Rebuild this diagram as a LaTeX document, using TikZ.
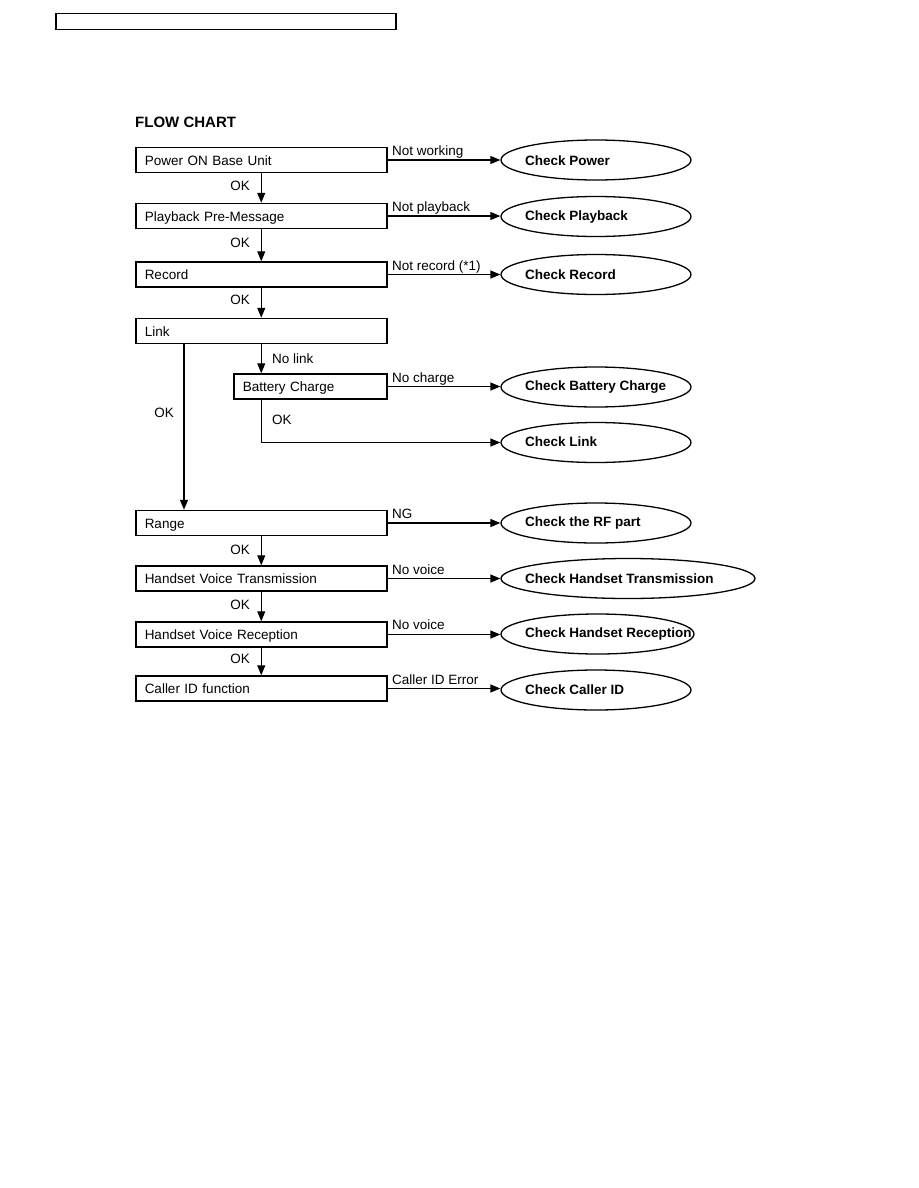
\documentclass[tikz,border=0pt]{standalone}
\usepackage{fontspec}
\setmainfont{Liberation Sans}
\usetikzlibrary{arrows.meta,shapes.geometric}
\begin{document}
\begin{tikzpicture}[x=1pt,y=-1pt,
  every node/.style={font=\fontsize{13.5}{16}\selectfont},
  box/.style={draw,line width=1.5pt,rectangle,minimum height=25pt,inner xsep=9pt,inner ysep=0pt,anchor=west,text width=#1,text height=10pt,text depth=0pt,align=left},
  ell/.style={draw,line width=1.3pt,ellipse,minimum width=#1,minimum height=40pt,inner sep=0pt},
  etxt/.style={anchor=west,inner sep=0pt,font=\fontsize{13.5}{16}\selectfont\bfseries},
  lbl/.style={inner sep=0pt},
  arr/.style={line width=1.3pt,-{Triangle[length=10pt,width=8pt]}}]
\useasboundingbox (0,0) rectangle (918,1188);
% header frame
\node[draw,line width=1.5pt,minimum width=340pt,minimum height=16pt,inner sep=0pt,anchor=north west] (hdr) at (55,13) {};
% title
\node[anchor=west,inner sep=0pt,font=\fontsize{15}{18}\selectfont\bfseries] (title) at (135,122.5) {FLOW CHART};
% boxes
\node[box=233pt] (p1) at (135,160) {Power ON Base Unit};
\node[box=233pt] (p2) at (135,216) {Playback Pre-Message};
\node[box=233pt] (p3) at (135,274.5) {Record};
\node[box=233pt] (link) at (135,331) {Link};
\node[box=135pt] (bat) at (233,386.5) {Battery Charge};
\node[box=233pt] (rng) at (135,523) {Range};
\node[box=233pt] (hvt) at (135,578.5) {Handset Voice Transmission};
\node[box=233pt] (hvr) at (135,634.5) {Handset Voice Reception};
\node[box=233pt] (cid) at (135,688.5) {Caller ID function};
% ellipses
\node[ell=190pt] (e1) at (596,160) {};
\node[etxt] (t1) at (525,161) {Check Power};
\node[ell=190pt] (e2) at (596,216.5) {};
\node[etxt] (t2) at (525,217) {Check Playback};
\node[ell=190pt] (e3) at (596,274.5) {};
\node[etxt] (t3) at (525,275) {Check Record};
\node[ell=190pt] (e4) at (596,387) {};
\node[etxt] (t4) at (525,387) {Check Battery Charge};
\node[ell=190pt] (e5) at (596,442.5) {};
\node[etxt] (t5) at (525,442) {Check Link};
\node[ell=190pt] (e6) at (596,523) {};
\node[etxt] (t6) at (525,523) {Check the RF part};
\node[ell=254pt] (e7) at (628,578.5) {};
\node[etxt] (t7) at (525,578.5) {Check Handset Transmission};
\node[ell=193pt] (e8) at (597.5,634) {};
\node[etxt] (t8) at (525,634) {Check Handset Reception};
\node[ell=190pt] (e9) at (596,690) {};
\node[etxt] (t9) at (525,689.5) {Check Caller ID};
% horizontal connectors
\draw[arr] (p1.east) -- (e1.west);
\draw[arr] (p2.east) -- (e2.west |- p2.east);
\draw[arr] (p3.east) -- (e3.west);
\draw[arr] (bat.east) -- (e4.west |- bat.east);
\draw[arr] (rng.east) -- (e6.west);
\draw[arr] (hvt.east) -- (e7.west |- hvt.east);
\draw[arr] (hvr.east) -- (e8.west |- hvr.east);
\draw[arr] (cid.east) -- (e9.west |- cid.east);
% horizontal labels
\node[lbl,anchor=base west] (l1) at (392,155.5) {Not working};
\node[lbl,anchor=base west] (l2) at (392,211.5) {Not playback};
\node[lbl,anchor=base west] (l3) at (392,270) {Not record (*1)};
\node[lbl,anchor=base west] (l4) at (392,382) {No charge};
\node[lbl,anchor=base west] (l6) at (392,518) {NG};
\node[lbl,anchor=base west] (l7) at (392,574) {No voice};
\node[lbl,anchor=base west] (l8) at (392,629) {No voice};
\node[lbl,anchor=base west] (l9) at (392,684) {Caller ID Error};
% vertical connectors
\draw[arr] (p1.south) -- (p2.north);
\draw[arr] (p2.south) -- (p3.north);
\draw[arr] (p3.south) -- (link.north);
\draw[arr] (link.south) -- (link.south |- bat.north);
\draw[arr] (bat.south -| link.south) |- (e5.west);
\draw[arr] ([xshift=49pt]link.south west) -- ([xshift=49pt]rng.north west);
\draw[arr] (rng.south) -- (hvt.north);
\draw[arr] (hvt.south) -- (hvr.north);
\draw[arr] (hvr.south) -- (cid.north);
% OK labels
\node[lbl,anchor=base east] (ok1) at (250,190) {OK};
\node[lbl,anchor=base east] (ok2) at (250,247) {OK};
\node[lbl,anchor=base east] (ok3) at (250,304) {OK};
\node[lbl,anchor=base west] (nl) at (272,363) {No link};
\node[lbl,anchor=base west] (ok4) at (272,424) {OK};
\node[lbl,anchor=base east] (ok5) at (174,417) {OK};
\node[lbl,anchor=base east] (ok6) at (250,554) {OK};
\node[lbl,anchor=base east] (ok7) at (250,609) {OK};
\node[lbl,anchor=base east] (ok8) at (250,663) {OK};
\end{tikzpicture}
\end{document}
